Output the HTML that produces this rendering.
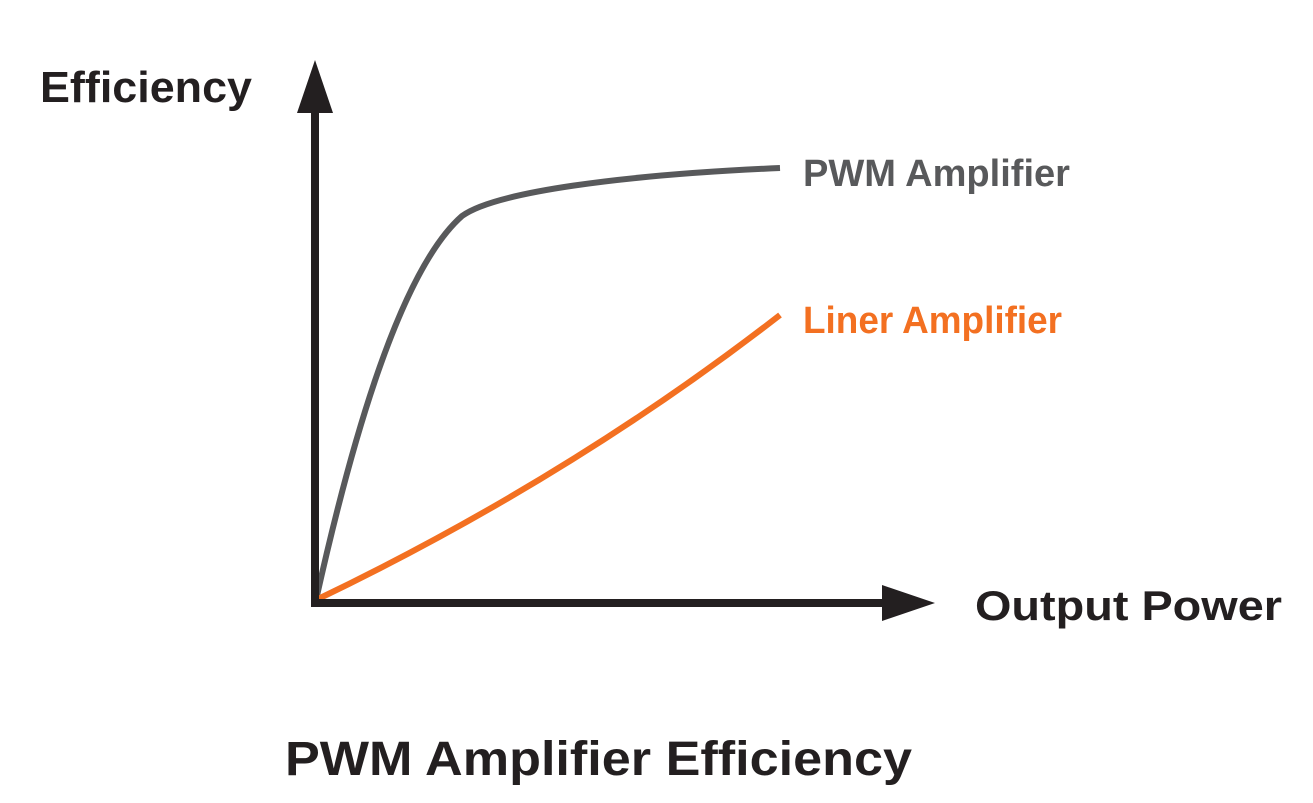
<!DOCTYPE html>
<html>
<head>
<meta charset="utf-8">
<style>
html,body{margin:0;padding:0;background:#fff;}
svg{display:block;}
text{font-family:"Liberation Sans",sans-serif;font-weight:bold;}
</style>
</head>
<body>
<svg width="1313" height="803" viewBox="0 0 1313 803" xmlns="http://www.w3.org/2000/svg">
  <path d="M316,600 C345,470 395,275 462,216 C495,192 620,175 780,168" fill="none" stroke="#58595b" stroke-width="6"/>
  <path d="M316,600 Q570,478 780,315" fill="none" stroke="#f37021" stroke-width="6"/>
  <line x1="315" y1="607" x2="315" y2="105" stroke="#231f20" stroke-width="8"/>
  <polygon points="315,60 297,113 333,113" fill="#231f20"/>
  <line x1="311" y1="603" x2="890" y2="603" stroke="#231f20" stroke-width="8"/>
  <polygon points="935,603 882,585 882,621" fill="#231f20"/>
  <text x="40" y="102" font-size="44" fill="#231f20" textLength="212" lengthAdjust="spacingAndGlyphs">Efficiency</text>
  <text x="803" y="186" font-size="38" fill="#58595b" textLength="267" lengthAdjust="spacingAndGlyphs">PWM Amplifier</text>
  <text x="803" y="333" font-size="38" fill="#f37021" textLength="259" lengthAdjust="spacingAndGlyphs">Liner Amplifier</text>
  <text x="975" y="620" font-size="42" fill="#231f20" textLength="307" lengthAdjust="spacingAndGlyphs">Output Power</text>
  <text x="285" y="775" font-size="48" fill="#231f20" textLength="627" lengthAdjust="spacingAndGlyphs">PWM Amplifier Efficiency</text>
</svg>
</body>
</html>
